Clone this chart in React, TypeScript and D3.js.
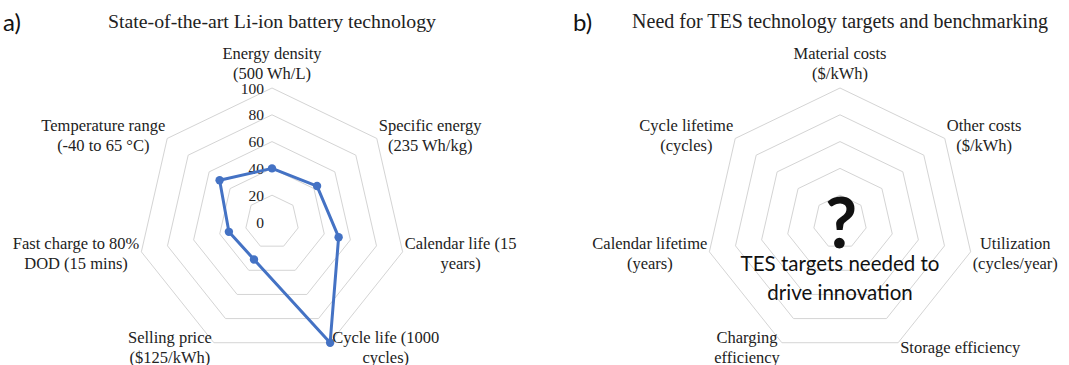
import React, { useEffect, useRef } from 'react';
import * as d3 from 'd3';

const leftTitle = 'State-of-the-art Li-ion battery technology';
const rightTitle = 'Need for TES technology targets and benchmarking';
const leftAxes: string[][] = [
  ['Energy density', '(500 Wh/L)'],
  ['Specific energy', '(235 Wh/kg)'],
  ['Calendar life (15', 'years)'],
  ['Cycle life (1000', 'cycles)'],
  ['Selling price', '($125/kWh)'],
  ['Fast charge to 80%', 'DOD (15 mins)'],
  ['Temperature range', '(-40 to 65 °C)'],
];
const leftValues = [40, 43, 51, 100, 31, 33, 50];
const ringTicks = [0, 20, 40, 60, 80, 100];
const rightAxes: string[][] = [
  ['Material costs', '($/kWh)'],
  ['Other costs', '($/kWh)'],
  ['Utilization', '(cycles/year)'],
  ['Storage efficiency'],
  ['Charging', 'efficiency'],
  ['Calendar lifetime', '(years)'],
  ['Cycle lifetime', '(cycles)'],
];
const centerMark = '?';
const centerText = ['TES targets needed to', 'drive innovation'];

const SERIF = '"Liberation Serif", "Times New Roman", serif';
const SANS = 'Lato, "Open Sans", sans-serif';
const GRID = '#d4d4d4';
const BLUE = '#4472C4';

function drawRadar(
  svg: d3.Selection<SVGSVGElement, unknown, null, undefined>,
  cx: number,
  cy: number,
  axes: string[][],
  showTicks: boolean,
  values: number[] | null
) {
  const n = axes.length;
  const R = 134;
  const r = d3.scaleLinear().domain([0, 100]).range([0, R]);
  const ang = (i: number) => (i * 2 * Math.PI) / n;
  const pt = (i: number, v: number): [number, number] => [
    cx + r(v) * Math.sin(ang(i)),
    cy - r(v) * Math.cos(ang(i)),
  ];
  const g = svg.append('g');
  const closed = d3.line<[number, number]>().curve(d3.curveLinearClosed);
  ringTicks
    .filter((t) => t > 0)
    .forEach((t) => {
      g.append('path')
        .attr('d', closed(d3.range(n).map((i) => pt(i, t))))
        .attr('fill', 'none')
        .attr('stroke', GRID)
        .attr('stroke-width', 1);
    });

  if (showTicks) {
    ringTicks.forEach((t) => {
      g.append('text')
        .attr('x', cx - 8)
        .attr('y', cy - r(t))
        .attr('text-anchor', 'end')
        .attr('dominant-baseline', 'central')
        .attr('font-family', SERIF)
        .attr('font-size', 15.5)
        .attr('fill', '#222')
        .text(String(t));
    });
  }

  if (values) {
    const pts = values.map((v, i) => pt(i, v));
    g.append('path')
      .attr('d', closed(pts))
      .attr('fill', 'none')
      .attr('stroke', BLUE)
      .attr('stroke-width', 3)
      .attr('stroke-linejoin', 'round');
    g.selectAll('circle.m')
      .data(pts)
      .enter()
      .append('circle')
      .attr('cx', (d) => d[0])
      .attr('cy', (d) => d[1])
      .attr('r', 4.2)
      .attr('fill', BLUE);
  }

  const LH = 20;
  axes.forEach((lines, i) => {
    const [vx, vy] = pt(i, 100);
    const s = Math.sin(ang(i));
    const c = Math.cos(ang(i));
    const t = g
      .append('text')
      .attr('font-family', SERIF)
      .attr('font-size', 16.5)
      .attr('fill', '#222')
      .attr('text-anchor', 'middle');
    const spans = lines.map((l) =>
      t.append('tspan').attr('dominant-baseline', 'central').text(l)
    );
    let w = 0;
    spans.forEach((sp) => {
      w = Math.max(w, (sp.node() as SVGTextContentElement).getComputedTextLength());
    });
    let bx: number;
    if (Math.abs(s) < 0.1) bx = vx;
    else if (s > 0) bx = vx + 2 + w / 2;
    else bx = vx - 2 - w / 2;
    let centerY: number;
    if (c > 0.95) centerY = vy - 15 - ((lines.length - 1) * LH) / 2;
    else centerY = vy - 5.5 * c;
    spans.forEach((sp, k) => {
      sp.attr('x', bx).attr('y', centerY + (k - (lines.length - 1) / 2) * LH);
    });
  });
}

export default function App() {
  const ref = useRef<SVGSVGElement>(null);
  useEffect(() => {
    if (!ref.current) return;
    const svg = d3.select(ref.current);
    svg.selectAll('*').remove();
    svg.append('rect').attr('width', 1069).attr('height', 365).attr('fill', '#fff');

    svg.append('text').attr('x', 3).attr('y', 31).attr('font-family', SANS)
      .attr('font-size', 24).attr('fill', '#111').text('a)');
    svg.append('text').attr('x', 573).attr('y', 31).attr('font-family', SANS)
      .attr('font-size', 24).attr('fill', '#111').text('b)');
    svg.append('text').attr('x', 272).attr('y', 28).attr('text-anchor', 'middle')
      .attr('font-family', SERIF).attr('font-size', 19.8).attr('fill', '#222').text(leftTitle);
    svg.append('text').attr('x', 840).attr('y', 28).attr('text-anchor', 'middle')
      .attr('font-family', SERIF).attr('font-size', 20).attr('fill', '#222').text(rightTitle);

    drawRadar(svg, 272, 222, leftAxes, true, leftValues);
    drawRadar(svg, 840, 222, rightAxes, false, null);

    svg.append('text').attr('x', 841).attr('y', 248).attr('text-anchor', 'middle')
      .attr('font-family', SANS).attr('font-weight', 700).attr('font-size', 70)
      .attr('fill', '#111').text(centerMark);
    centerText.forEach((l, k) => {
      svg.append('text').attr('x', 840).attr('y', 263 + k * 29)
        .attr('dominant-baseline', 'central').attr('text-anchor', 'middle')
        .attr('font-family', SANS).attr('font-size', 20.5).attr('fill', '#111').text(l);
    });
  }, []);
  return (
    <svg
      ref={ref}
      width={1069}
      height={365}
      style={{ position: 'absolute', left: 0, top: 0, display: 'block' }}
    />
  );
}
